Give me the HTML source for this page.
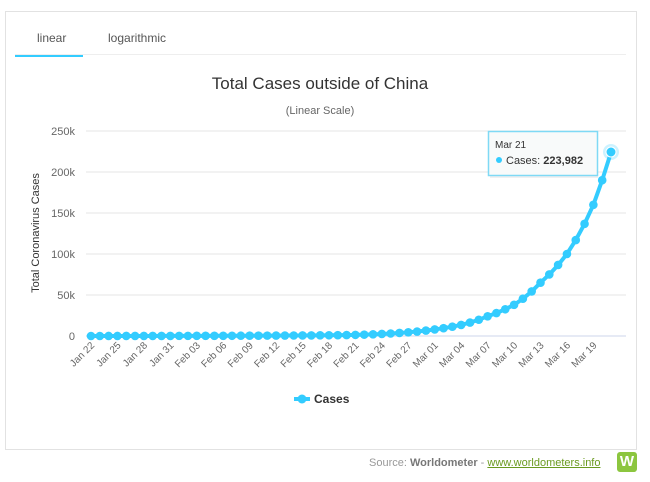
<!DOCTYPE html><html><head><style>
body{margin:0;width:650px;height:482px;background:#fff;font-family:"Liberation Sans",sans-serif;overflow:hidden;position:relative}
.box{position:absolute;left:5px;top:11px;width:630px;height:437px;border:1px solid #e2e2e2}
</style></head><body>
<div class="box"></div>
<div style="position:absolute;left:37px;top:31px;font-size:12px;color:#555">linear</div>
<div style="position:absolute;left:108px;top:31px;font-size:12px;color:#555">logarithmic</div>
<div style="position:absolute;left:15px;top:54px;width:611px;height:1px;background:#eee"></div>
<div style="position:absolute;left:15px;top:55px;width:68px;height:2px;background:#33ccff"></div>
<svg id="s" width="650" height="482" style="position:absolute;left:0;top:0" font-family="Liberation Sans, sans-serif">
<text x="320" y="89" text-anchor="middle" font-size="17" fill="#333">Total Cases outside of China</text>
<text x="320" y="114" text-anchor="middle" font-size="11" fill="#666">(Linear Scale)</text>
<text transform="translate(39,233) rotate(-90)" text-anchor="middle" font-size="11" fill="#333">Total Coronavirus Cases</text>
<g id="g"></g>
<g transform="translate(294,399)"><line x1="0" y1="0" x2="16" y2="0" stroke="#33ccff" stroke-width="4"/><circle cx="8" cy="0" r="4.5" fill="#33ccff"/></g>
<text x="314" y="403" font-size="12" font-weight="bold" fill="#333">Cases</text>
<rect x="490" y="134" width="108" height="44" fill="#000" fill-opacity="0.06"/>
<rect x="488.5" y="131.5" width="109" height="44" fill="#f8fafa" stroke="#7fd9f5" stroke-width="1.5"/>
<text x="495" y="148" font-size="10" fill="#333">Mar 21</text>
<circle cx="499" cy="160" r="3" fill="#33ccff"/>
<text x="506" y="164" font-size="11" fill="#333">Cases: <tspan font-weight="bold">223,982</tspan></text>
<circle cx="611" cy="152" r="8" fill="#33ccff" fill-opacity="0.25"/>
<circle cx="611" cy="152" r="5" fill="#33ccff" stroke="#fff" stroke-width="1"/>
</svg>
<div style="position:absolute;left:369px;top:457px;font-size:11px;color:#999">Source: <b style="color:#777">Worldometer</b> - <span style="color:#6a9a1f;text-decoration:underline">www.worldometers.info</span></div>
<div style="position:absolute;left:617px;top:452px;width:20px;height:20px;background:#8cc63f;border-radius:3px;color:#fff;font-weight:bold;font-size:15px;text-align:center;line-height:20px">W</div>
<script>
var g=document.getElementById('g'),h='';
var y0=336,k=205/250000;
[0,50000,100000,150000,200000,250000].forEach(function(v,i){var y=y0-v*k;
h+='<line x1="86" x2="626" y1="'+y+'" y2="'+y+'" stroke="'+(i?'#e6e6e6':'#ccd6eb')+'"/>';
h+='<text x="75" y="'+(y+4)+'" text-anchor="end" font-size="11" fill="#666">'+(i?v/1000+'k':'0')+'</text>';});
var key={0:10,10:150,19:400,29:1100,33:2500,36:4500,39:8000,42:13500,45:24000,48:38000,51:65000,54:100000,57:160000,58:190000,59:223982};
var ks=Object.keys(key).map(Number),d=[];
for(var i=0;i<60;i++){for(var j=0;j<ks.length-1;j++){if(i>=ks[j]&&i<=ks[j+1]){var a=ks[j],b=ks[j+1],t=(i-a)/(b-a);d.push(Math.exp(Math.log(key[a])*(1-t)+Math.log(key[b])*t));break;}}}
var pts=d.map(function(v,i){return [91+i*520/59,y0-v*k]});
h+='<polyline fill="none" stroke="#33ccff" stroke-width="4" stroke-linejoin="round" points="'+pts.map(function(p){return p.join(',')}).join(' ')+'"/>';
pts.forEach(function(p,i){if(i<59)h+='<circle cx="'+p[0]+'" cy="'+p[1]+'" r="4.3" fill="#33ccff"/>';});
var m=['Jan','Feb','Mar'];
for(var i=0;i<60;i+=3){var x=new Date(2020,0,22+i);var lab=m[x.getMonth()]+' '+('0'+x.getDate()).slice(-2);
var px=91+i*520/59+4;h+='<text transform="translate('+px+',346) rotate(-45)" text-anchor="end" font-size="10" fill="#666">'+lab+'</text>';}
g.innerHTML=h;
</script>
</body></html>
